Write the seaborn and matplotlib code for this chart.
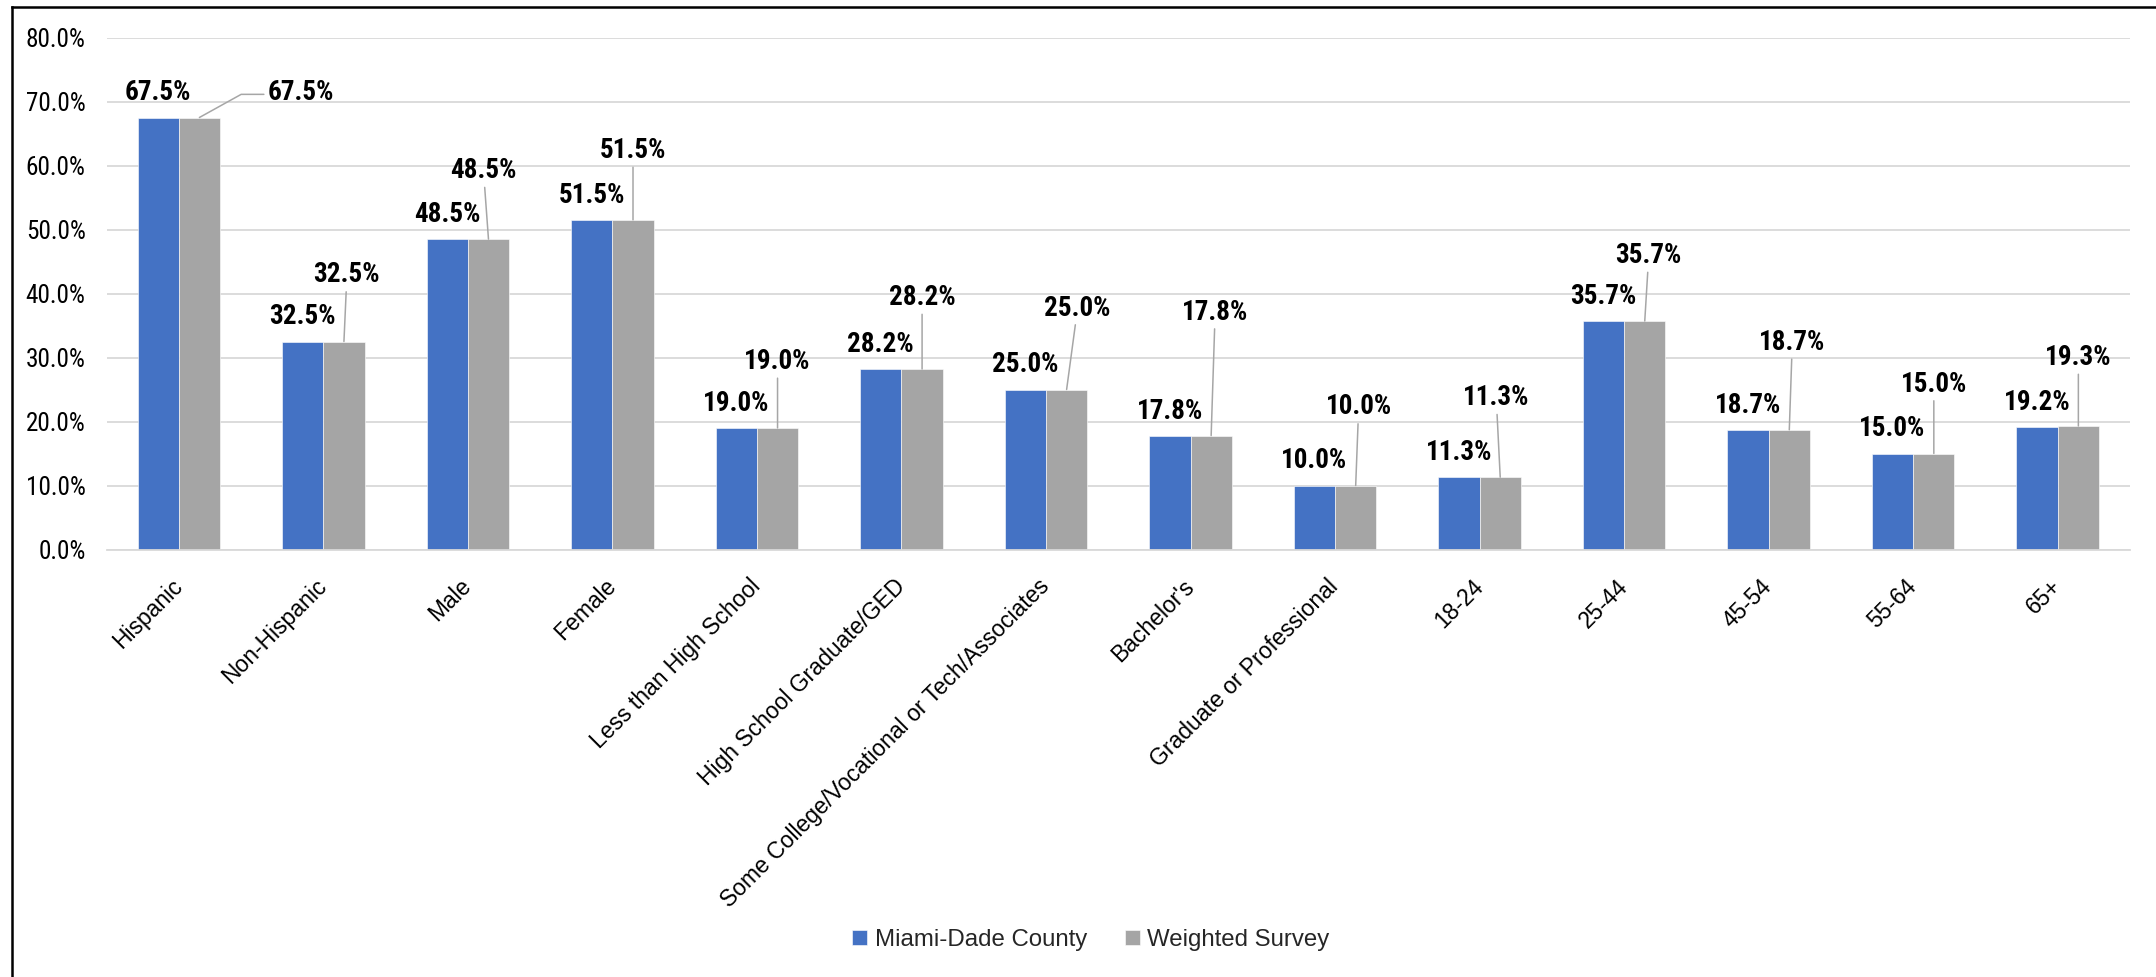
import matplotlib
matplotlib.use("Agg")
import matplotlib.pyplot as plt
import seaborn as sns
import pandas as pd
from matplotlib import font_manager
from matplotlib.font_manager import FontProperties
from matplotlib.ticker import PercentFormatter, MultipleLocator
from matplotlib.lines import Line2D

# ---------------- data ----------------
categories = ["Hispanic", "Non-Hispanic", "Male", "Female", "Less than High School",
              "High School Graduate/GED", "Some College/Vocational or Tech/Associates",
              "Bachelor's", "Graduate or Professional", "18-24", "25-44", "45-54",
              "55-64", "65+"]
series_names = ["Miami-Dade County", "Weighted Survey"]
county_values = [67.5, 32.5, 48.5, 51.5, 19.0, 28.2, 25.0, 17.8, 10.0, 11.3, 35.7, 18.7, 15.0, 19.2]
survey_values = [67.5, 32.5, 48.5, 51.5, 19.0, 28.2, 25.0, 17.8, 10.0, 11.3, 35.7, 18.7, 15.0, 19.3]
colors = ["#4472C4", "#A5A5A5"]

# label layout (pixel offsets of the survey labels from the top of their bar)
survey_label_dx = [101, 3, -5, 0, 0, 0, 11, 4, 3, -4, 4, 3, 0, 0]
survey_label_dy = [27, 69, 71, 72, 69, 74, 84, 126, 81, 82, 68, 90, 72, 71]

df = pd.DataFrame({
    "category": categories * 2,
    "value": county_values + survey_values,
    "series": [series_names[0]] * len(categories) + [series_names[1]] * len(categories),
})

# ---------------- fonts ----------------
names = {f.name for f in font_manager.fontManager.ttflist}
REG = "Liberation Sans" if "Liberation Sans" in names else "DejaVu Sans"


def _weight(w):
    if isinstance(w, (int, float)):
        return int(w)
    return {"bold": 700, "normal": 400, "regular": 400, "medium": 500,
            "semibold": 600, "light": 300}.get(str(w).lower(), 400)


def _stretch(s):
    if isinstance(s, (int, float)):
        return int(s)
    return {"ultra-condensed": 100, "extra-condensed": 200, "condensed": 300,
            "semi-condensed": 400, "normal": 500, "semi-expanded": 600,
            "expanded": 700}.get(str(s).lower(), 500)


def find_condensed(weight):
    best, best_score = None, None
    pref = ["Liberation Sans Narrow", "Arial Narrow", "Roboto Condensed", "Noto Sans",
            "Open Sans", "Lato", "Inter", "Roboto", "DejaVu Sans"]
    for f in font_manager.fontManager.ttflist:
        nm = f.name
        st = _stretch(f.stretch)
        cond = ("Narrow" in nm) or ("Condensed" in nm) or st < 500
        if not cond:
            continue
        if "Mono" in nm or "Serif" in nm or "CJK" in nm:
            continue
        if "italic" in str(f.style).lower() or "oblique" in str(f.style).lower():
            continue
        if "Italic" in f.fname:
            continue
        base = next((i for i, p in enumerate(pref) if nm.startswith(p)), 50)
        wdiff = abs(_weight(f.weight) - weight) / 100.0
        sdiff = 0 if ("Narrow" in nm) else abs(st - 350) / 100.0
        score = base * 3 + wdiff * 2 + sdiff
        if best_score is None or score < best_score:
            best, best_score = f, score
    return best


cond_bold = find_condensed(700)
cond_reg = find_condensed(400)


def fp(entry, size, fallback_weight):
    if entry is not None:
        return FontProperties(fname=entry.fname, size=size)
    return FontProperties(family=REG, weight=fallback_weight, size=size * 0.9)


sns.set_theme(style="white")
plt.rcParams["font.family"] = [REG, "DejaVu Sans"]

W, H, DPI = 2156, 977, 100
fig = plt.figure(figsize=(W / DPI, H / DPI), dpi=DPI)
ax = fig.add_axes([106.5 / W, 1 - 549.5 / H, (2130 - 106.5) / W, 512 / H])

sns.barplot(data=df, x="category", y="value", hue="series", palette=colors,
            width=0.571, dodge=True, ax=ax, edgecolor="white", linewidth=0.4,
            saturation=1.0, legend=True)

ax.set_xlim(-0.5, len(categories) - 0.5)
ax.set_ylim(0, 80)
ax.yaxis.set_major_locator(MultipleLocator(10))
ax.yaxis.set_major_formatter(PercentFormatter(decimals=1))
ax.grid(axis="y", color="#D9D9D9", linewidth=1.3)
ax.set_axisbelow(True)
for s in ["left", "right", "top"]:
    ax.spines[s].set_visible(False)
ax.spines["bottom"].set_color("#D9D9D9")
ax.spines["bottom"].set_linewidth(1.3)
ax.set_xlabel("")
ax.set_ylabel("")
ax.tick_params(axis="both", length=0)
ax.tick_params(axis="y", pad=15)
ytick_fp = fp(cond_reg, 18.2, "normal")
for lab in ax.get_yticklabels():
    lab.set_fontproperties(ytick_fp)
    lab.set_color("#000000")

ax.set_xticks(range(len(categories)))
ax.set_xticklabels(categories, rotation=45, ha="right", va="center",
                   rotation_mode="anchor", fontsize=16.5, color="#000000")
ax.tick_params(axis="x", pad=24)

# ---------------- data labels ----------------
label_fp = fp(cond_bold, 19.5, "bold")
county_bars, survey_bars = ax.containers[0], ax.containers[1]
for bar in county_bars:
    x = bar.get_x() + bar.get_width() / 2
    y = bar.get_height()
    ax.annotate(f"{y:.1f}%", xy=(x, y), xytext=(0, 17), textcoords="offset pixels",
                ha="center", va="baseline", fontproperties=label_fp, color="#000000")

for i, bar in enumerate(survey_bars):
    x = bar.get_x() + bar.get_width() / 2
    y = bar.get_height()
    if i == 0:
        arrow = dict(arrowstyle="-", color="#A6A6A6", lw=1.1, shrinkA=0, shrinkB=0,
                     relpos=(0, 0.45), connectionstyle="angle,angleA=0,angleB=29,rad=0")
    else:
        arrow = dict(arrowstyle="-", color="#A6A6A6", lw=1.1, shrinkA=0, shrinkB=0)
    ax.annotate(f"{y:.1f}%", xy=(x, y), xytext=(survey_label_dx[i], survey_label_dy[i] - 10),
                textcoords="offset pixels", ha="center", va="baseline",
                arrowprops=arrow, fontproperties=label_fp, color="#000000")

# ---------------- legend ----------------
handles, labels = ax.get_legend_handles_labels()
if ax.get_legend() is not None:
    ax.get_legend().remove()
fig.legend(handles, labels, loc="center", bbox_to_anchor=(1091 / W, 1 - 940 / H), ncol=2,
           frameon=False, fontsize=17.3, handlelength=0.62, handleheight=0.62,
           handletextpad=0.3, columnspacing=1.6, borderpad=0)

# ---------------- outer frame (left and top edges) ----------------
fig.add_artist(Line2D([12 / W, 12 / W], [0, 1 - 7 / H], transform=fig.transFigure,
                      color="#000000", linewidth=1.8, solid_capstyle="projecting"))
fig.add_artist(Line2D([12 / W, 1], [1 - 7 / H, 1 - 7 / H], transform=fig.transFigure,
                      color="#000000", linewidth=1.8, solid_capstyle="projecting"))

fig.savefig("out.png", dpi=DPI, facecolor="white")
